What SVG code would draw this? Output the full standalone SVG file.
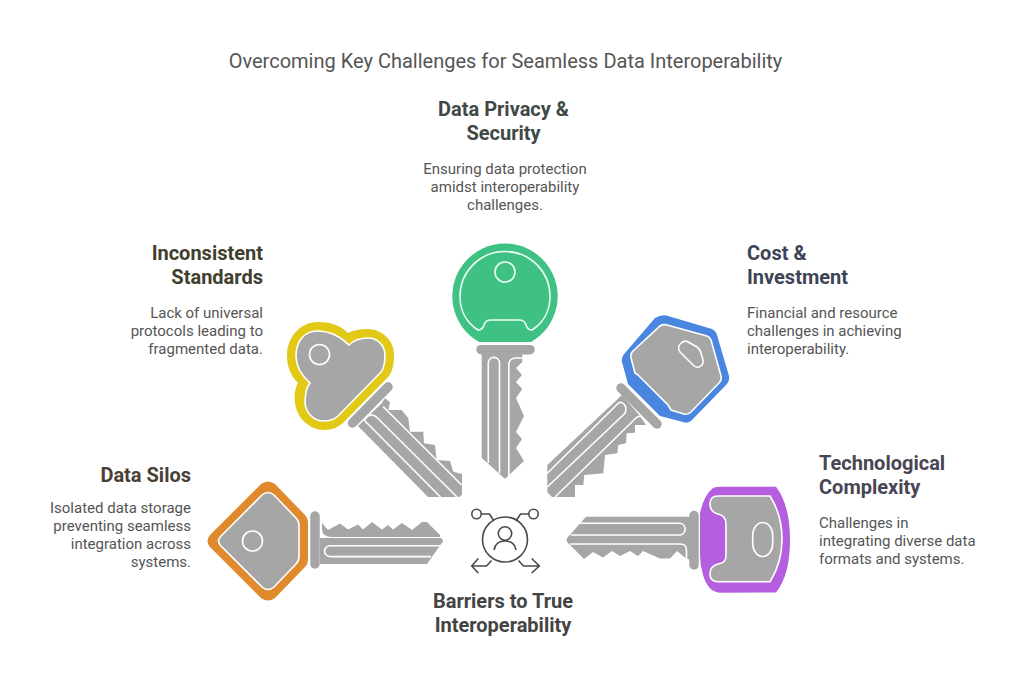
<svg xmlns="http://www.w3.org/2000/svg" width="1011" height="687" viewBox="0 0 1011 687">
<style>
text{font-family:Roboto,"Liberation Sans",sans-serif}
.t{font-size:20px;fill:#555;text-anchor:middle}
.h{font-size:20px;font-weight:700}
.b{font-size:15px;fill:#555}
.m{text-anchor:middle}.e{text-anchor:end}
.g{fill:#a6a6a6}
.gs{fill:#a6a6a6;stroke:#fff;stroke-width:1.6}
.w{fill:none;stroke:#fff;stroke-width:1.6}
.bow{fill:none;stroke:#a6a6a6;stroke-width:9.5;stroke-linecap:round}
.i{fill:none;stroke:#4a4a4a;stroke-width:1.6}
</style>
<rect width="1011" height="687" fill="#fff"/>
<text class="t" x="505.500" y="68">Overcoming Key Challenges for Seamless Data Interoperability</text>
<g id="connectors"></g>
<g id="key-data-silos">
<path fill="#e08a2e" d="M261,484Q268,479 275,484L305,515Q308,518 308,522L308,560Q308,564 305,567L275,598Q268,603 261,598L210,547Q205,541 210,535Z"/>
<path class="gs" d="M262,495Q268,490 274,495L296,518Q299,521 299,525L299,557Q299,561 296,564L274,587Q268,592 262,587L221,546Q216,541 221,536Z"/>
<circle class="gs" cx="252.500" cy="541" r="10"/>
<line class="bow" x1="315" y1="516" x2="315" y2="564"/>
<path class="g" d="M320,538L441,538Q445,541 441,544L427,564L320,564Z"/>
<path class="g" d="M322,523L328,530L340,523.500L348,529.500L358,524.500L363,529.500L372,522L382,529.500L388,525L393,529.500L402,523L412,530L422,522L427,522L440,535L440,537L332,537Q322,537 322,529Z"/>
<path class="w" d="M440,545.800L330,545.800A5.400,5.400 0 0 0 330,556.600L431,556.600"/>
</g>
<g id="key-inconsistent-standards">
<path fill="#e2c916" d="M348,333C340,325 330,322 318,322C300,322 287,337 287,356C287,367 291,376 298,383C295,388 294,395 295,403C297,418 309,430 325,430C332,430 339,427 344,422L389,376C392,372 394,365 394,355C394,340 382,329 367,329C360,329 354,330 348,333Z"/>
<path class="gs" d="M349,345C340,336 328,331 317,331C304,331 296,342 296,356C296,368 302,376 310,383C306,388 305,395 305,403C306,413 314,421 323,421C329,421 334,420 338,416L381,372C384,368 385,362 385,355C385,346 378,338 368,338C361,338 354,340 349,345Z"/>
<circle class="gs" cx="319.500" cy="354.500" r="10"/>
<line class="bow" x1="352.500" y1="423" x2="388" y2="387"/>
<path class="g" d="M358,426L428,497L458,497Q462,497 462,493L462,474L453.300,471.700L450,461L436.700,460L435,445L424,443.300L423.300,431.700L410,431.700L408.300,418.300L401.700,410L388.300,410L390,402.300L385,398.300L381,404Z"/>
<path class="w" d="M383,406.500L461.700,485M378,418.500L457,497M367.500,423.500L440.500,497M378,418.500C374,414 370,414 367,417C364,420 364,421 367.500,423.500"/>
</g>
<g id="key-data-privacy">
<path fill="#3fc184" d="M479,342A52.700,52.700 0 1 1 531,342Z"/>
<path fill="none" stroke="#e8fff2" stroke-width="1.600" d="M478,330C467,323 460,311 460,296.500C460,271.500 480,251.500 505,251.500C530,251.500 550,271.500 550,296.500C550,311 543,323 532,330C529,330 527,328 526,325C525,321 523,320 519,320L491,320C487,320 485,321 484,325C483,328 481,330 478,330Z"/>
<circle fill="none" stroke="#e8fff2" stroke-width="1.600" cx="505" cy="272" r="10"/>
<line class="bow" x1="481" y1="349.700" x2="530" y2="349.700"/>
<path class="g" d="M481.700,354L481.700,458L503,477Q505,480 507,477L509,475L524,461L516,448L522,439L516,432L524,416L516,398L522.300,389L516,382L522,375L516,368L522.300,362L522.300,354Z"/>
<path class="w" d="M488.300,463L488.300,363A5.600,5.600 0 0 1 499.500,363L499.500,473M508.800,476L508.800,365Q508.800,358 516,358L523,358"/>
</g>
<g id="key-cost-investment">
<path fill="#4a86e0" d="M655,318Q662,314 668,316L712,329Q716,331 717,335L729,376Q730,381 726,385L692,420Q688,424 683,422L660,416L628,384L622,362Q621,357 625,353Z"/>
<path class="gs" d="M660,326Q663,324 667,325L707,336Q710,337 711,340L721,376Q722,380 719,383L691,412Q688,415 684,414L671,410L668,405L638,375L635,373L631,358Q630,354 633,351Z"/>
<path class="gs" d="M683,341.700Q686,340 690,343L697,347Q700,349 701,353L703,360Q704,365 699,367Q696,368 693,365L680,352Q676,346 683,341.700Z"/>
<line class="bow" x1="621" y1="388" x2="657" y2="424"/>
<path class="g" d="M622,395L547.300,465L547.300,491Q547.300,493 550,495L552,497L575,497L575,485L583.300,485L584.300,475L603.300,473.300L605,455L617.300,453.300L618.300,445L626,443.300L626.700,433.300L635,432.700L635,425L646,425L640,416Z"/>
<path class="w" d="M547.300,473.300L618.300,403.300C622,400 628,406 625,413.300L547.300,487M555,497L636,418Q640,414 644,419"/>
</g>
<g id="key-technological-complexity">
<path fill="#b55ee0" d="M700,513Q704,495 713,488Q716,486.700 720,486.700L776,486.700Q790,505 790,540Q790,575 776,592.500L720,592.700Q708,592 703,575Q700,565 700,555Z"/>
<path class="gs" d="M710,504Q710,496 718,496L770,496Q782,515 782,539Q782,563 770,581.700L718,581.700Q710,581.700 710,574Q710,566 718,564Q726,563 726,556L726,524Q726,516 718,514Q710,512 710,504Z"/>
<rect class="gs" x="752.700" y="522.500" width="20" height="34" rx="10" ry="13"/>
<line class="bow" x1="694" y1="515.500" x2="694" y2="565"/>
<path class="g" d="M690,516.700L586,516.700L568,537Q565,540 568,543L584,559L593,552L603,557.500L612,551L620,556L630,551L638,556L643,551L652,555L660,558.500L670,558.500L677,551L685,557.500L690,560Z"/>
<path class="w" d="M579,523.300L680,523.300A5.900,5.900 0 0 1 680,535L571,535M570,544L680,544Q686.500,544 686.500,550L686.500,559"/>
</g>
<g id="node-barriers">
<circle class="i" cx="505" cy="539.500" r="22.500"/>
<circle class="i" cx="505" cy="533.500" r="6.700"/>
<path class="i" d="M494,550C495,544 499,541 505,541C511,541 515,544 516,550"/>
<circle class="i" cx="476.500" cy="514" r="4.700"/>
<circle class="i" cx="533.500" cy="514" r="4.700"/>
<path class="i" d="M481.200,514L489.500,514L494,521M528.800,514L520.500,514L516,521M491.500,560.500L486.500,566L471.700,566M478.300,558.500L471.700,566L478.300,573M518.500,560.500L523.500,566L539.300,566M531.700,558.500L539.300,566L531.700,573"/>
</g>
<g id="label-title-privacy">
<text class="h m" fill="#3f4a47" x="503.500" y="116">Data Privacy &amp;</text>
<text class="h m" fill="#3f4a47" x="503.500" y="140">Security</text>
<text class="b m" x="505" y="174">Ensuring data protection</text>
<text class="b m" x="505" y="192">amidst interoperability</text>
<text class="b m" x="505" y="210">challenges.</text>
</g>
<g id="label-standards">
<text class="h e" fill="#40402f" x="263" y="260">Inconsistent</text>
<text class="h e" fill="#40402f" x="263" y="284">Standards</text>
<text class="b e" x="263" y="318">Lack of universal</text>
<text class="b e" x="263" y="336">protocols leading to</text>
<text class="b e" x="263" y="354">fragmented data.</text>
</g>
<g id="label-cost">
<text class="h" fill="#3d4555" x="747" y="260">Cost &amp;</text>
<text class="h" fill="#3d4555" x="747" y="284">Investment</text>
<text class="b" x="747" y="318">Financial and resource</text>
<text class="b" x="747" y="336">challenges in achieving</text>
<text class="b" x="747" y="354">interoperability.</text>
</g>
<g id="label-silos">
<text class="h e" fill="#4a4035" x="191" y="482">Data Silos</text>
<text class="b e" x="191" y="513">Isolated data storage</text>
<text class="b e" x="191" y="531">preventing seamless</text>
<text class="b e" x="191" y="549">integration across</text>
<text class="b e" x="191" y="567">systems.</text>
</g>
<g id="label-tech">
<text class="h" fill="#4a4555" x="819" y="470">Technological</text>
<text class="h" fill="#4a4555" x="819" y="494">Complexity</text>
<text class="b" x="819" y="528">Challenges in</text>
<text class="b" x="819" y="546">integrating diverse data</text>
<text class="b" x="819" y="564">formats and systems.</text>
</g>
<g id="label-barriers">
<text class="h m" fill="#444" x="503" y="608">Barriers to True</text>
<text class="h m" fill="#444" x="503" y="632">Interoperability</text>
</g>
</svg>
